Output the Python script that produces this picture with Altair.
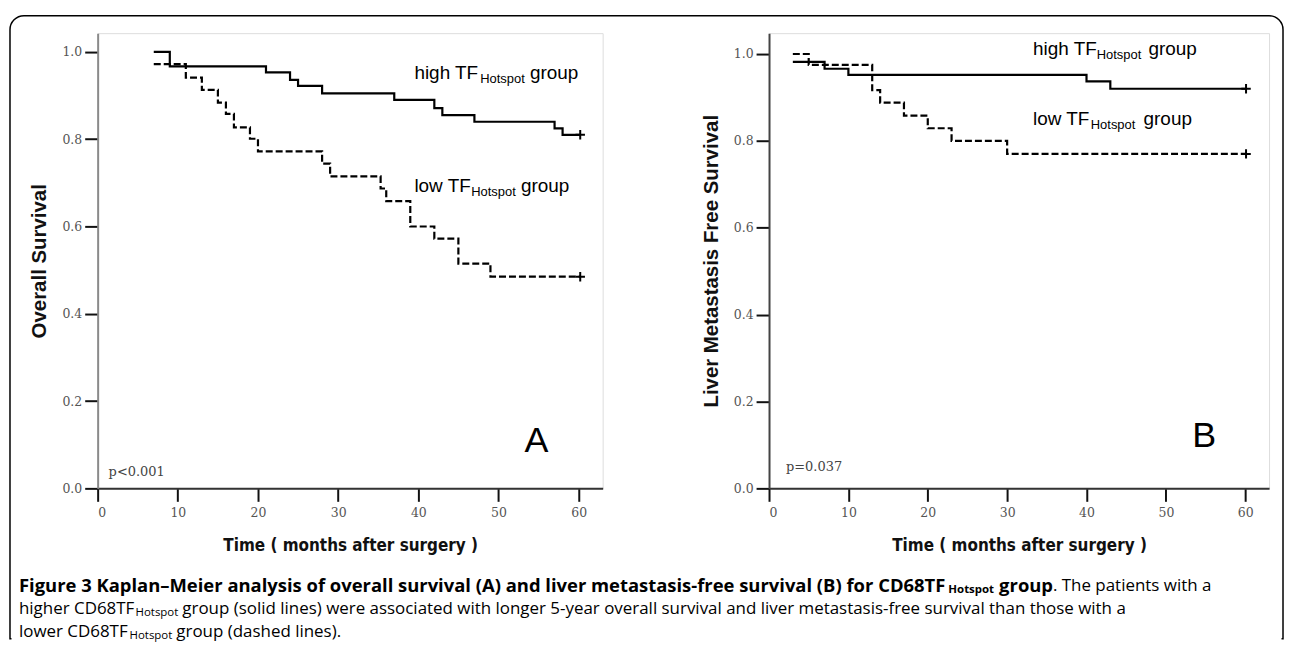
import altair as alt
import pandas as pd

# ---------------- data ----------------
months_ticks = [0, 10, 20, 30, 40, 50, 60]
surv_ticks = [0.0, 0.2, 0.4, 0.6, 0.8, 1.0]

a_high_t = [7, 9, 21, 24, 25, 28, 37, 42, 43, 47, 57, 58, 60.2]
a_high_s = [1.0, 0.967, 0.953, 0.936, 0.922, 0.905, 0.890, 0.871, 0.855, 0.840, 0.825, 0.810, 0.810]
a_low_t = [7, 11, 13, 15, 16, 17, 19, 20, 28, 29, 35.3, 36, 39, 42, 45, 49, 60.2]
a_low_s = [0.972, 0.941, 0.913, 0.884, 0.858, 0.827, 0.801, 0.772, 0.744, 0.715, 0.687, 0.658,
           0.600, 0.572, 0.515, 0.485, 0.485]

b_high_t = [3, 7, 10, 40, 43, 60.1]
b_high_s = [0.982, 0.966, 0.952, 0.937, 0.920, 0.920]
b_low_t = [3, 5, 13, 14, 17, 20, 23, 30, 60.1]
b_low_s = [1.0, 0.975, 0.917, 0.888, 0.858, 0.829, 0.800, 0.770, 0.770]

x_title = "Time ( months after surgery )"
a_title = "Overall Survival"
b_title = "Liver Metastasis Free Survival"

SANS = "Liberation Sans, Arial, sans-serif"
SERIF = "DejaVu Serif, serif"
CONDENSED = "Liberation Sans Narrow, DejaVu Sans Condensed, Liberation Sans, sans-serif"
CAP = "Open Sans, sans-serif"

one = pd.DataFrame({"k": [0]})


def label(text, x, y, size, font=SANS, weight="normal", align="left",
          baseline="middle", color="black"):
    return alt.Chart(one).mark_text(
        text=text, font=font, fontSize=size, fontWeight=weight, align=align,
        baseline=baseline, color=color
    ).encode(x=alt.value(x), y=alt.value(y))


def panel(high_t, high_s, low_t, low_s, ytop, ytitle, ydomcolor, annotations, width):
    hi = pd.DataFrame({"t": high_t, "s": high_s})
    lo = pd.DataFrame({"t": low_t, "s": low_s})
    ends = pd.DataFrame({"t": [high_t[-1], low_t[-1]], "s": [high_s[-1], low_s[-1]]})

    xenc = alt.X("t:Q", scale=alt.Scale(domain=[0, 63], nice=False, zero=False),
                 axis=alt.Axis(values=months_ticks, format="d", grid=False,
                               domainColor="#333", domainWidth=2,
                               tickColor="#111", tickWidth=2, tickSize=13,
                               labelFont=SERIF, labelFontSize=12.5, labelColor="#555",
                               labelPadding=5, title=x_title, titleFont=CONDENSED,
                               titleFontSize=17, titleFontWeight="bold", titleColor="#111",
                               titlePadding=19, zindex=1))
    yenc = alt.Y("s:Q", scale=alt.Scale(domain=[0, ytop], nice=False, zero=False),
                 axis=alt.Axis(values=surv_ticks, format=".1f", grid=False,
                               domainColor=ydomcolor, domainWidth=2,
                               tickColor="#111", tickWidth=2, tickSize=13,
                               labelFont=SERIF, labelFontSize=12.5, labelColor="#555",
                               labelPadding=3, title=ytitle, titleFont=SANS,
                               titleFontSize=20.5, titleFontWeight="bold", titleColor="#111",
                               titlePadding=12, zindex=1))

    high_line = alt.Chart(hi).mark_line(interpolate="step-after", color="black",
                                        strokeWidth=2.2).encode(x=xenc, y=yenc)
    low_line = alt.Chart(lo).mark_line(interpolate="step-after", color="black",
                                       strokeWidth=2.2, strokeDash=[7, 3]).encode(x="t:Q", y="s:Q")
    cens = alt.Chart(ends).mark_point(shape="M-1,0L1,0M0,-1L0,1", size=90, filled=False,
                                      color="black", strokeWidth=2, opacity=1).encode(x="t:Q", y="s:Q")
    return alt.layer(*annotations, high_line, low_line, cens).properties(width=width, height=457)


# Figure frame and caption live in panel A's coordinate space (origin = plot corner)
frame = alt.Chart(one).mark_rect(fill=None, stroke="black", strokeWidth=1.5,
                                 cornerRadiusTopLeft=14, cornerRadiusTopRight=14).encode(
    x=alt.value(-88), x2=alt.value(1190), y=alt.value(-17.5), y2=alt.value(608))
frame_cut = alt.Chart(one).mark_rule(color="white", strokeWidth=3).encode(
    x=alt.value(-86.5), x2=alt.value(1188.5), y=alt.value(608))

CS = 17      # caption regular size
CB = 18.5    # caption bold size
SUB = 11.5   # subscript size
cap = [
    label("Figure 3 Kaplan\u2013Meier analysis of overall survival (A) and liver metastasis-free survival (B) for CD68TF",
          -79, 555, CB, font=CAP, weight="bold"),
    label("Hotspot", 854, 559, SUB, font=CAP, weight="bold"),
    label("group", 905, 555, CB, font=CAP, weight="bold"),
    label(". The patients with a", 959, 555, CS, font=CAP),
    label("higher CD68TF", -79, 578, CS, font=CAP),
    label("Hotspot", 38, 582, SUB, font=CAP),
    label("group (solid lines) were associated with longer 5-year overall survival and liver metastasis-free survival than those with a",
          85, 578, CS, font=CAP),
    label("lower CD68TF", -79, 601, CS, font=CAP),
    label("Hotspot", 32, 605, SUB, font=CAP),
    label("group (dashed lines).", 79, 601, CS, font=CAP),
]

ann_a = [frame, frame_cut] + cap + [
    label("high TF", 318, 40, 19),
    label("Hotspot", 384, 46, 13),
    label("group", 434, 40, 19),
    label("low TF", 318, 153, 19),
    label("Hotspot", 375, 159, 13),
    label("group", 425, 153, 19),
    label("A", 440.5, 420, 36, align="center", baseline="alphabetic"),
    label("p<0.001", 11, 441, 13, font=SERIF, color="#444"),
]

ann_b = [
    label("high TF", 265, 16, 19),
    label("Hotspot", 329, 22, 13),
    label("group", 381, 16, 19),
    label("low TF", 265, 86, 19),
    label("Hotspot", 323, 92, 13),
    label("group", 376, 86, 19),
    label("B", 437, 415, 36, align="center", baseline="alphabetic"),
    label("p=0.037", 17, 436, 13, font=SERIF, color="#444"),
]

pa = panel(a_high_t, a_high_s, a_low_t, a_low_s, 1.043, a_title, "#8a8a8a", ann_a, 507)
pb = panel(b_high_t, b_high_s, b_low_t, b_low_s, 1.048, b_title, "#444", ann_b, 502)

chart = alt.hconcat(pa, pb, spacing=167, bounds="flush").properties(
    padding={"left": 0, "top": 5, "right": 0, "bottom": 0}
).configure_view(stroke=None).configure(background="white")

chart.save("out.html", embed_options={"renderer": "svg", "actions": False})
